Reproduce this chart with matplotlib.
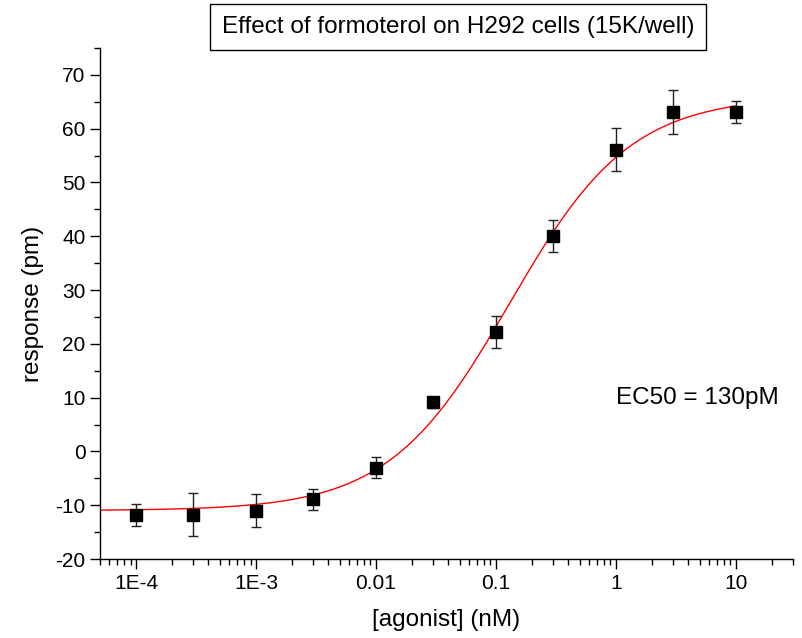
import numpy as np
import matplotlib
matplotlib.use("Agg")
import matplotlib.pyplot as plt
from matplotlib.ticker import FixedLocator, FixedFormatter, MultipleLocator, LogLocator, NullFormatter

plt.rcParams['font.family'] = ['Liberation Sans', 'DejaVu Sans']
plt.rcParams['axes.unicode_minus'] = False

# measured responses (pm) at each agonist concentration (nM)
conc = [1e-4, 3e-4, 1e-3, 3e-3, 0.01, 0.03, 0.1, 0.3, 1, 3, 10]
response = [-11.8, -11.8, -11.0, -8.9, -3.0, 9.1, 22.2, 40.1, 56.1, 63.1, 63.1]
err = [2.0, 4.0, 3.0, 2.0, 2.0, 1.0, 3.0, 3.0, 4.0, 4.0, 2.0]

# four-parameter logistic fit shown as red curve
fit_bottom = -11.0
fit_top = 66.0
fit_ec50 = 0.13
fit_hill = 0.86

xtick_vals = [1e-4, 1e-3, 0.01, 0.1, 1, 10]
xtick_labels = ['1E-4', '1E-3', '0.01', '0.1', '1', '10']

fig = plt.figure(figsize=(8.03, 6.38), dpi=100)
ax = fig.add_axes([0.1245, 0.1238, 0.863, 0.801])

xs = np.logspace(np.log10(5e-5), np.log10(10), 400)
curve = fit_bottom + (fit_top - fit_bottom) / (1 + (fit_ec50 / xs) ** fit_hill)
ax.plot(xs, curve, color='red', lw=1.0, zorder=2)

ax.errorbar(conc, response, yerr=err, fmt='none', ecolor='#222222',
            elinewidth=1.0, capsize=3.5, capthick=1.0, zorder=3)
ax.plot(conc, response, 's', color='black', markersize=8, zorder=4)

ax.set_xscale('log')
ax.set_xlim(5e-5, 30)
ax.set_ylim(-20, 75)

ax.xaxis.set_major_locator(FixedLocator(xtick_vals))
ax.xaxis.set_major_formatter(FixedFormatter(xtick_labels))
ax.xaxis.set_minor_locator(LogLocator(base=10, subs=np.arange(2, 10)))
ax.xaxis.set_minor_formatter(NullFormatter())

ax.yaxis.set_major_locator(FixedLocator(np.arange(-20, 71, 10)))
ax.yaxis.set_minor_locator(MultipleLocator(5))

for s in ['top', 'right']:
    ax.spines[s].set_visible(False)
for s in ['left', 'bottom']:
    ax.spines[s].set_linewidth(1.0)

ax.tick_params(which='major', direction='out', length=7, width=1.0, labelsize=15)
ax.tick_params(which='minor', direction='out', length=4, width=1.0)

ax.set_xlabel('[agonist] (nM)', fontsize=17.5, labelpad=12)
ax.set_ylabel('response (pm)', fontsize=17.5, labelpad=8)

ax.text(1.0, 10, 'EC50 = 130pM', fontsize=17.5, ha='left', va='center')

fig.text(458 / 803, 1 - 27 / 638, 'Effect of formoterol on H292 cells (15K/well)',
         fontsize=17.5, ha='center', va='center',
         bbox=dict(boxstyle='square,pad=0.5', facecolor='white', edgecolor='black', lw=1.0))

fig.savefig('out.png', dpi=100)
